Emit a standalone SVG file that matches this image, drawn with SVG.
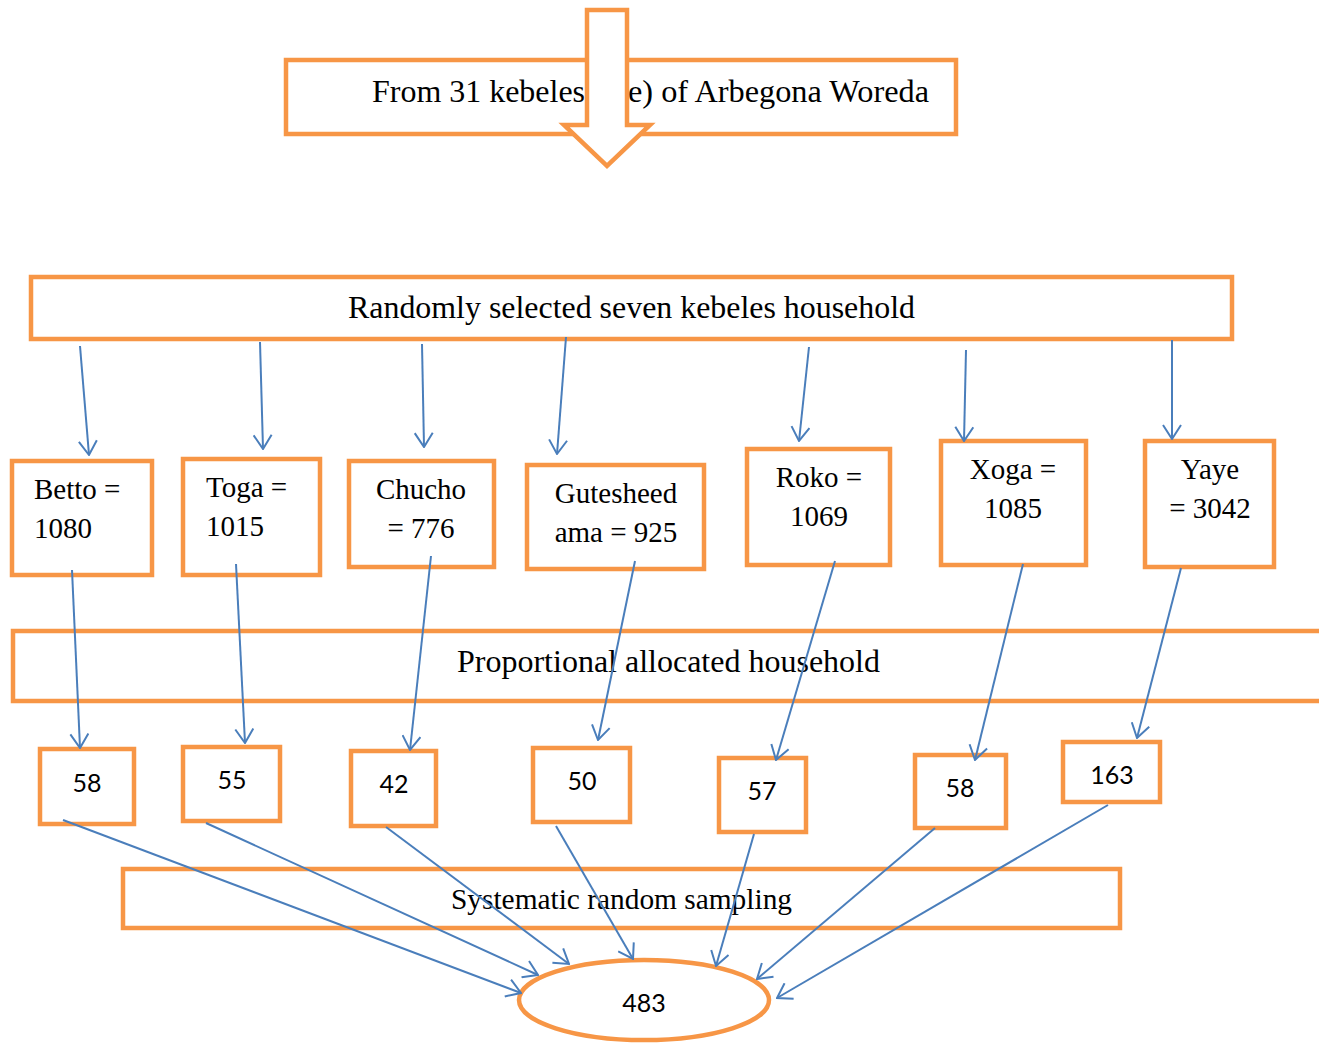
<svg xmlns="http://www.w3.org/2000/svg" width="1319" height="1043" viewBox="0 0 1319 1043">
<style>
.box{fill:#fff;stroke:#F79646;stroke-width:4.5;}
.t{font-family:"Liberation Serif","Times New Roman",serif;font-size:29px;fill:#000;}
.big{font-size:32px;}
.n{font-family:Lato,"Open Sans","Liberation Sans",sans-serif;font-size:25px;fill:#000;text-anchor:middle;}
.c{text-anchor:middle;}
.ln{stroke:#4A7EBB;stroke-width:2;fill:none;marker-end:url(#ah);}
</style>
<defs>
<marker id="ah" viewBox="0 0 16 20" refX="15" refY="10" markerWidth="16" markerHeight="20" markerUnits="userSpaceOnUse" orient="auto">
<path d="M1,1 L15,10 L1,19" fill="none" stroke="#4A7EBB" stroke-width="2"/>
</marker>
</defs>
<rect width="1319" height="1043" fill="#fff"/>

<g id="source">
<rect class="box" x="286" y="60" width="670" height="74"/>
<text class="t big" x="372" y="102" textLength="213" lengthAdjust="spacingAndGlyphs">From 31 kebeles</text>
<text class="t big" x="628" y="102" textLength="301" lengthAdjust="spacingAndGlyphs">e) of Arbegona Woreda</text>
</g>
<g id="block-arrow">
<path d="M587,10 L627,10 L627,125 L650,125 L607,166 L564,125 L587,125 Z" fill="#fff" stroke="#F79646" stroke-width="4.5" stroke-linejoin="miter"/>
</g>

<g id="random">
<rect class="box" x="31" y="277" width="1201" height="62"/>
<text class="t big" x="348" y="318" textLength="567" lengthAdjust="spacingAndGlyphs">Randomly selected seven kebeles household</text>
</g>

<g id="betto">
<rect class="box" x="12" y="461" width="140" height="114"/>
<text class="t" x="34" y="499">Betto =</text>
<text class="t" x="34" y="538">1080</text>
</g>
<g id="toga">
<rect class="box" x="183" y="459" width="137" height="116"/>
<text class="t" x="206" y="497">Toga =</text>
<text class="t" x="206" y="536">1015</text>
</g>
<g id="chucho">
<rect class="box" x="349" y="461" width="145" height="106"/>
<text class="t c" x="421" y="499">Chucho</text>
<text class="t c" x="421" y="538">= 776</text>
</g>
<g id="gutesheedama">
<rect class="box" x="527" y="465" width="177" height="104"/>
<text class="t c" x="616" y="503">Gutesheed</text>
<text class="t c" x="616" y="542">ama = 925</text>
</g>
<g id="roko">
<rect class="box" x="747" y="449" width="143" height="116"/>
<text class="t c" x="819" y="487">Roko =</text>
<text class="t c" x="819" y="526">1069</text>
</g>
<g id="xoga">
<rect class="box" x="941" y="441" width="145" height="124"/>
<text class="t c" x="1013" y="479">Xoga =</text>
<text class="t c" x="1013" y="518">1085</text>
</g>
<g id="yaye">
<rect class="box" x="1145" y="441" width="129" height="126"/>
<text class="t c" x="1210" y="479">Yaye</text>
<text class="t c" x="1210" y="518">= 3042</text>
</g>

<g id="proportional">
<rect class="box" x="13" y="631" width="1320" height="70"/>
<text class="t big" x="457" y="672" textLength="423" lengthAdjust="spacingAndGlyphs">Proportional allocated household</text>
</g>

<g id="n58a"><rect class="box" x="40" y="749" width="94" height="75"/><text class="n" x="87" y="792">58</text></g>
<g id="n55"><rect class="box" x="183" y="747" width="97" height="74"/><text class="n" x="232" y="789">55</text></g>
<g id="n42"><rect class="box" x="351" y="751" width="85" height="75"/><text class="n" x="394" y="793">42</text></g>
<g id="n50"><rect class="box" x="533" y="748" width="97" height="74"/><text class="n" x="582" y="790">50</text></g>
<g id="n57"><rect class="box" x="719" y="758" width="87" height="74"/><text class="n" x="762" y="800">57</text></g>
<g id="n58b"><rect class="box" x="915" y="755" width="91" height="73"/><text class="n" x="960" y="797">58</text></g>
<g id="n163"><rect class="box" x="1063" y="742" width="97" height="60"/><text class="n" x="1112" y="784">163</text></g>

<g id="systematic">
<rect class="box" x="123" y="869" width="997" height="59"/>
<text class="t" x="451" y="909" style="font-size:30px" textLength="341" lengthAdjust="spacingAndGlyphs">Systematic random sampling</text>
</g>

<g id="total">
<ellipse cx="644" cy="1000" rx="125" ry="40" fill="#fff" stroke="#F79646" stroke-width="4.5"/>
<text class="n" x="644" y="1012">483</text>
</g>

<g id="connectors">
<line class="ln" x1="80" y1="346" x2="89" y2="455"/>
<line class="ln" x1="260" y1="342" x2="263" y2="449"/>
<line class="ln" x1="422" y1="344" x2="424" y2="447"/>
<line class="ln" x1="566" y1="337" x2="557" y2="454"/>
<line class="ln" x1="809" y1="347" x2="799" y2="441"/>
<line class="ln" x1="966" y1="350" x2="964" y2="441"/>
<line class="ln" x1="1172" y1="340" x2="1172" y2="439"/>

<line class="ln" x1="72" y1="570" x2="80" y2="748"/>
<line class="ln" x1="236" y1="564" x2="245" y2="743"/>
<line class="ln" x1="431" y1="556" x2="410" y2="750"/>
<line class="ln" x1="635" y1="561" x2="598" y2="740"/>
<line class="ln" x1="835" y1="561" x2="776" y2="760"/>
<line class="ln" x1="1023" y1="564" x2="975" y2="760"/>
<line class="ln" x1="1181" y1="568" x2="1137" y2="738"/>

<line class="ln" x1="63" y1="820" x2="521" y2="993"/>
<line class="ln" x1="206" y1="823" x2="538" y2="975"/>
<line class="ln" x1="386" y1="827" x2="569" y2="964"/>
<line class="ln" x1="556" y1="826" x2="633" y2="959"/>
<line class="ln" x1="754" y1="834" x2="716" y2="966"/>
<line class="ln" x1="935" y1="828" x2="757" y2="979"/>
<line class="ln" x1="1108" y1="805" x2="777" y2="998"/>
</g>
</svg>
